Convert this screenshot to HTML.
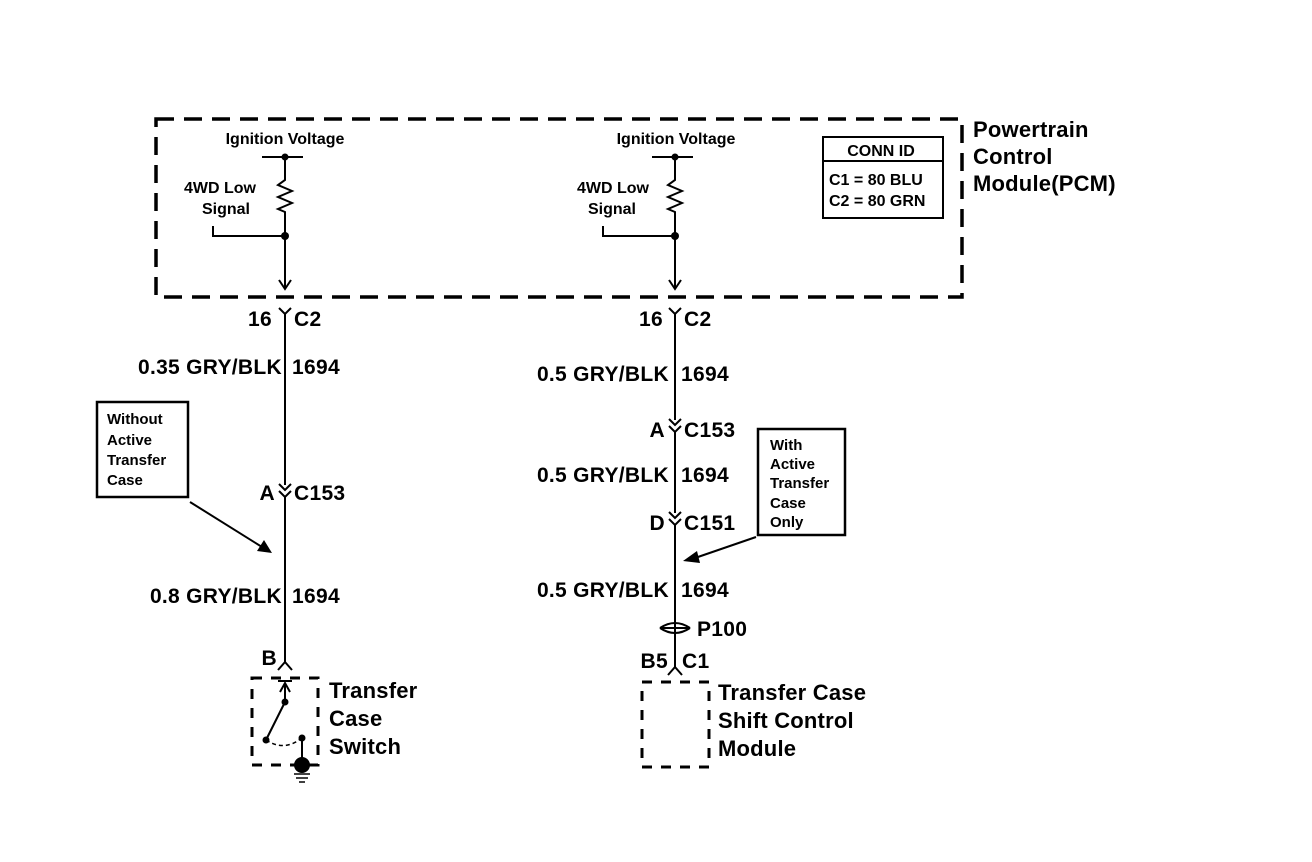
<!DOCTYPE html>
<html><head><style>
html,body{margin:0;padding:0;background:#fff;}
svg{display:block;}
text{font-family:"Liberation Sans",Arial,sans-serif;fill:#000;font-weight:bold;}
.l{font-size:21px;letter-spacing:0.3px;}
.s{font-size:15px;}
.m{font-size:16px;}
.b{font-size:22px;letter-spacing:0.2px;}
</style></head><body>
<svg width="1312" height="862" viewBox="0 0 1312 862" xmlns="http://www.w3.org/2000/svg">
<g fill="none" stroke="#000">
<rect x="156" y="119" width="806" height="178" stroke-width="3.5" stroke-dasharray="18,10"/>
<line x1="262" y1="157" x2="303" y2="157" stroke-width="2"/>
<polyline points="285,157 285,180 278,185 292,191 278,197 292,203 278,209 285,212 285,288" stroke-width="2"/>
<polyline points="213,226 213,236 285,236" stroke-width="2"/>
<polyline points="279,280 285,289 291,280" stroke-width="2"/>
<line x1="652" y1="157" x2="693" y2="157" stroke-width="2"/>
<polyline points="675,157 675,180 668,185 682,191 668,197 682,203 668,209 675,212 675,288" stroke-width="2"/>
<polyline points="603,226 603,236 675,236" stroke-width="2"/>
<polyline points="669,280 675,289 681,280" stroke-width="2"/>
<rect x="823" y="137" width="120" height="81" stroke-width="2"/>
<line x1="823" y1="161" x2="943" y2="161" stroke-width="2"/>
<polyline points="279,308 285,314 291,308" stroke-width="2"/>
<line x1="285" y1="314" x2="285" y2="485" stroke-width="2"/>
<polyline points="279,484 285,490 291,484" stroke-width="2"/>
<polyline points="279,491 285,497 291,491" stroke-width="2"/>
<line x1="285" y1="497" x2="285" y2="662" stroke-width="2"/>
<polyline points="278,670 285,662 292,670" stroke-width="2"/>
<rect x="97" y="402" width="91" height="95" stroke-width="2.5"/>
<line x1="190" y1="502" x2="262" y2="547" stroke-width="2"/>
<rect x="252" y="678" width="66" height="87" stroke-width="3" stroke-dasharray="10,9"/>
<line x1="278" y1="681" x2="292" y2="681" stroke-width="2"/>
<polyline points="280,692 285,683 290,692" stroke-width="2"/>
<line x1="285" y1="683" x2="285" y2="702" stroke-width="2"/>
<line x1="285" y1="702" x2="266" y2="740" stroke-width="2"/>
<path d="M266,740 Q284,752 302,738" stroke-width="1.5" stroke-dasharray="4,3"/>
<line x1="302" y1="738" x2="302" y2="766" stroke-width="2"/>
<line x1="294" y1="774" x2="310" y2="774" stroke-width="1.5"/>
<line x1="296" y1="778" x2="308" y2="778" stroke-width="1.5"/>
<line x1="299" y1="782" x2="305" y2="782" stroke-width="1.5"/>
<polyline points="669,308 675,314 681,308" stroke-width="2"/>
<line x1="675" y1="314" x2="675" y2="420" stroke-width="2"/>
<polyline points="669,419 675,425 681,419" stroke-width="2"/>
<polyline points="669,426 675,432 681,426" stroke-width="2"/>
<line x1="675" y1="432" x2="675" y2="513" stroke-width="2"/>
<polyline points="669,512 675,518 681,512" stroke-width="2"/>
<polyline points="669,519 675,525 681,519" stroke-width="2"/>
<line x1="675" y1="525" x2="675" y2="667" stroke-width="2"/>
<path d="M660,628 Q675,618 690,628 M660,628 Q675,638 690,628 M662,628 L688,628" stroke-width="2"/>
<polyline points="668,675 675,667 682,675" stroke-width="2"/>
<rect x="642" y="682" width="67" height="85" stroke-width="3" stroke-dasharray="10,9"/>
<rect x="758" y="429" width="87" height="106" stroke-width="2.5"/>
<line x1="756" y1="537" x2="695" y2="558" stroke-width="2"/>
</g>
<g fill="#000">
<circle cx="285" cy="157" r="3.5"/><circle cx="285" cy="236" r="4"/>
<circle cx="675" cy="157" r="3.5"/><circle cx="675" cy="236" r="4"/>
<circle cx="285" cy="702" r="3.5"/><circle cx="266" cy="740" r="3.5"/><circle cx="302" cy="738" r="3.5"/>
<circle cx="302" cy="765" r="8"/>
<polygon points="272,553 257,551 264,540"/>
<polygon points="683,561 697,551 700,563"/>
</g>
<text class="m" x="285" y="144" text-anchor="middle">Ignition Voltage</text>
<text class="m" x="256" y="193" text-anchor="end">4WD Low</text>
<text class="m" x="250" y="214" text-anchor="end">Signal</text>
<text class="m" x="676" y="144" text-anchor="middle">Ignition Voltage</text>
<text class="m" x="649" y="193" text-anchor="end">4WD Low</text>
<text class="m" x="636" y="214" text-anchor="end">Signal</text>
<text class="m" x="881" y="156" text-anchor="middle">CONN ID</text>
<text class="m" x="829" y="185">C1 = 80 BLU</text>
<text class="m" x="829" y="206">C2 = 80 GRN</text>
<text class="b" x="973" y="137">Powertrain</text>
<text class="b" x="973" y="164">Control</text>
<text class="b" x="973" y="191">Module(PCM)</text>

<text class="l" x="272" y="326" text-anchor="end">16</text><text class="l" x="294" y="326">C2</text>
<text class="l" x="282" y="374" text-anchor="end">0.35 GRY/BLK</text><text class="l" x="292" y="374">1694</text>
<text class="l" x="275" y="500" text-anchor="end">A</text><text class="l" x="294" y="500">C153</text>
<text class="l" x="282" y="603" text-anchor="end">0.8 GRY/BLK</text><text class="l" x="292" y="603">1694</text>
<text class="l" x="277" y="665" text-anchor="end">B</text>
<text class="s" x="107" y="424">Without</text>
<text class="s" x="107" y="445">Active</text>
<text class="s" x="107" y="465">Transfer</text>
<text class="s" x="107" y="485">Case</text>
<text class="b" x="329" y="698">Transfer</text>
<text class="b" x="329" y="726">Case</text>
<text class="b" x="329" y="754">Switch</text>

<text class="l" x="663" y="326" text-anchor="end">16</text><text class="l" x="684" y="326">C2</text>
<text class="l" x="669" y="381" text-anchor="end">0.5 GRY/BLK</text><text class="l" x="681" y="381">1694</text>
<text class="l" x="665" y="437" text-anchor="end">A</text><text class="l" x="684" y="437">C153</text>
<text class="l" x="669" y="482" text-anchor="end">0.5 GRY/BLK</text><text class="l" x="681" y="482">1694</text>
<text class="l" x="665" y="530" text-anchor="end">D</text><text class="l" x="684" y="530">C151</text>
<text class="l" x="669" y="597" text-anchor="end">0.5 GRY/BLK</text><text class="l" x="681" y="597">1694</text>
<text class="l" x="697" y="636">P100</text>
<text class="l" x="668" y="668" text-anchor="end">B5</text><text class="l" x="682" y="668">C1</text>
<text class="s" x="770" y="450">With</text>
<text class="s" x="770" y="469">Active</text>
<text class="s" x="770" y="488">Transfer</text>
<text class="s" x="770" y="508">Case</text>
<text class="s" x="770" y="527">Only</text>
<text class="b" x="718" y="700">Transfer Case</text>
<text class="b" x="718" y="728">Shift Control</text>
<text class="b" x="718" y="756">Module</text>
</svg>
</body></html>
